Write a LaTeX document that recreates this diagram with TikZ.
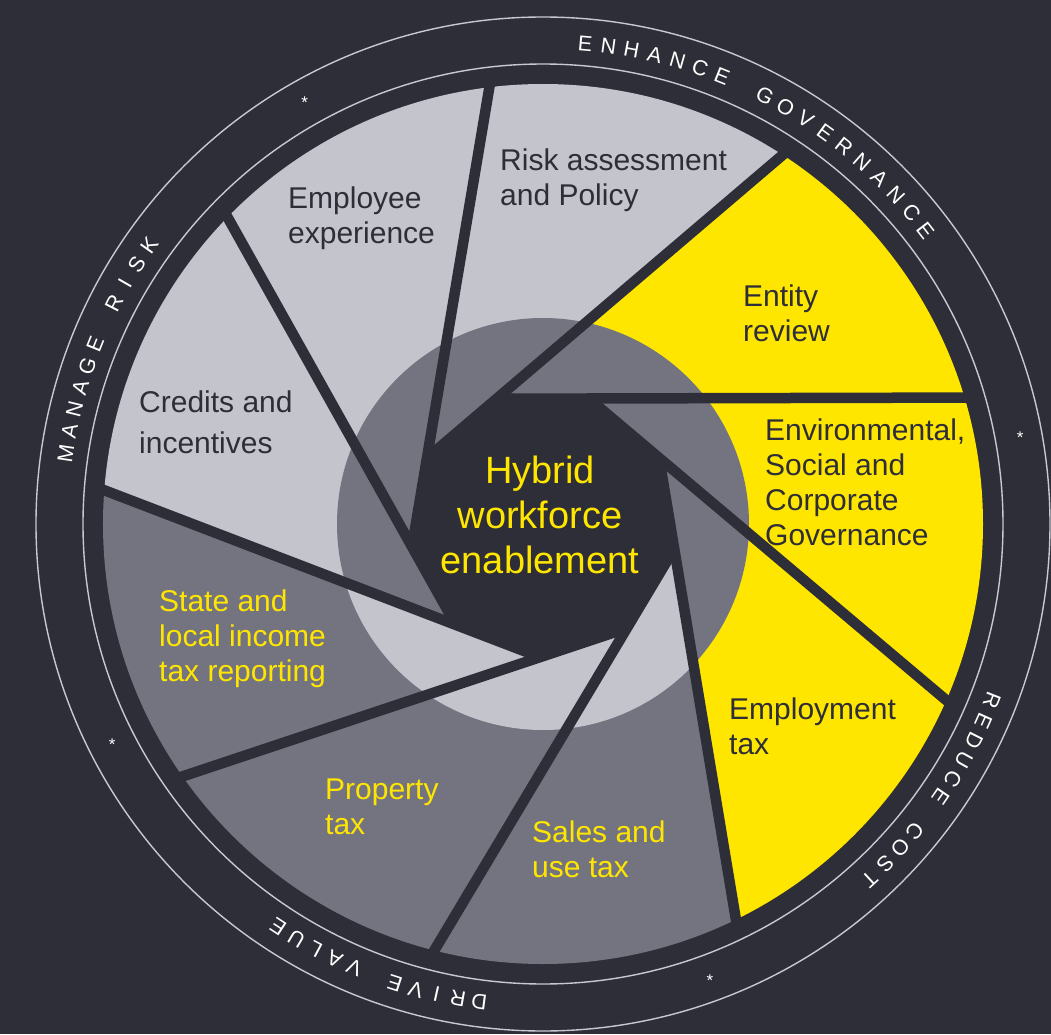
\documentclass[tikz,border=0pt]{standalone}
\usepackage{fontspec}
\setmainfont{Liberation Sans}
\usetikzlibrary{calc}

\definecolor{eydark}{HTML}{2E2E38}
\definecolor{eylight}{HTML}{C4C4CD}
\definecolor{eymid}{HTML}{747480}
\definecolor{eyyellow}{HTML}{FFE600}
\definecolor{eyring}{HTML}{C8C8D0}

% letters set one by one round the outer ring
\newcommand\ringlabel[4]{%
  \foreach \ch [count=\i] in {#4}{%
    \pgfmathsetmacro\ang{#2-(\i-1)*#3}
    \node[ringletter,rotate=\ang-90] (#1\i) at (\ang:475) {\ch};
  }}

\begin{document}
\begin{tikzpicture}[x=1pt,y=1pt,
    ringletter/.style={anchor=base,inner sep=0pt,text=white,font=\fontsize{21.5}{21.5}\selectfont},
    ringmark/.style={inner sep=0pt,text=white,font=\fontsize{17}{17}\selectfont}]

  \fill[eydark] (-543,-510) rectangle (508,524);
  \useasboundingbox (-543,-510) rectangle (508,524);

  \draw[eyring,line width=1.4pt] (0,0) circle (507);
  \draw[eyring,line width=1.4pt] (0,0) circle (460);

  % spokes: outer end, inner end, far end
  \foreach \a [count=\c from 0] in {97,57,16.7,-23.6,-64,-104.3,-145,175.6,135.8}{
    \coordinate (p\c) at (\a:440);
    \coordinate (e\c) at (\a+85:128);
    \coordinate (f\c) at ($(e\c)!1.3!(p\c)$);
  }
  \foreach \k in {0,...,8}{
    \pgfmathtruncatemacro\n{mod(\k+1,9)}
    \coordinate (x\k) at (intersection cs: first line={(p\k)--(e\k)},
                                          second line={(p\n)--(e\n)});
  }

  \begin{scope}
    \clip (0,0) circle (440);
    \foreach \k/\col in {0/eylight,1/eyyellow,2/eyyellow,3/eyyellow,4/eymid,
                         5/eymid,6/eymid,7/eylight,8/eylight}{
      \pgfmathtruncatemacro\n{mod(\k+1,9)}
      \fill[\col] (x\k) -- (f\k) -- ({77-40*\k}:700) -- (f\n) -- cycle;
    }
    \clip (0,0) circle (206);
    \foreach \k/\col in {0/eymid,1/eymid,2/eymid,3/eymid,4/eylight,
                         5/eylight,6/eylight,7/eymid,8/eymid}{
      \pgfmathtruncatemacro\n{mod(\k+1,9)}
      \fill[\col] (x\k) -- (f\k) -- ({77-40*\k}:700) -- (f\n) -- cycle;
    }
  \end{scope}

  \begin{scope}
    \clip (0,0) circle (446);
    \foreach \j in {0,...,8}{
      \pgfmathtruncatemacro\m{mod(\j+8,9)}
      \draw[eydark,line width=10.5pt] (f\j) -- (x\m);
    }
  \end{scope}

  \begin{scope}[every node/.style={align=left,anchor=west,inner sep=0pt,
      font=\fontsize{30}{35}\selectfont}]
    \node[text=eydark] (risk) at (-43,343.5) {Risk assessment\\and Policy};
    \node[text=eydark] (employee) at (-255,305.5) {Employee\\experience};
    \node[text=eydark] (entity) at (200,211) {Entity\\review};
    \node[text=eydark,font=\fontsize{30}{41}\selectfont] (credits) at (-404,102)
      {Credits and\\incentives};
    \node[text=eydark] (esg) at (222,41.5)
      {Environmental,\\Social and\\Corporate\\Governance};
    \node[text=eyyellow] (state) at (-384,-115)
      {State and\\local income\\tax reporting};
    \node[text=eydark] (employment) at (186,-202.5) {Employment\\tax};
    \node[text=eyyellow] (property) at (-218,-283) {Property\\tax};
    \node[text=eyyellow] (sales) at (-11,-325.5) {Sales and\\use tax};
  \end{scope}

  \node[align=center,text=eyyellow,font=\fontsize{38}{45}\selectfont] (hub) at (-3,9)
    {Hybrid\\workforce\\enablement};

  \ringlabel{gov}{85}{2.8}{E,N,H,A,N,C,E,,G,O,V,E,R,N,A,N,C,E}
  \ringlabel{risk}{171.6}{2.69}{M,A,N,A,G,E,,R,I,S,K}
  \ringlabel{cost}{-21.5}{2.59}{R,E,D,U,C,E,,C,O,S,T}
  \ringlabel{value}{-97.6}{2.57}{D,R,I,V,E,,V,A,L,U,E}

  \node[ringmark] (m1) at (119.5:484) {*};
  \node[ringmark] (m2) at (10.3:485) {*};
  \node[ringmark] (m3) at (-69.9:486) {*};
  \node[ringmark] (m4) at (-152.9:484) {*};

\end{tikzpicture}
\end{document}
